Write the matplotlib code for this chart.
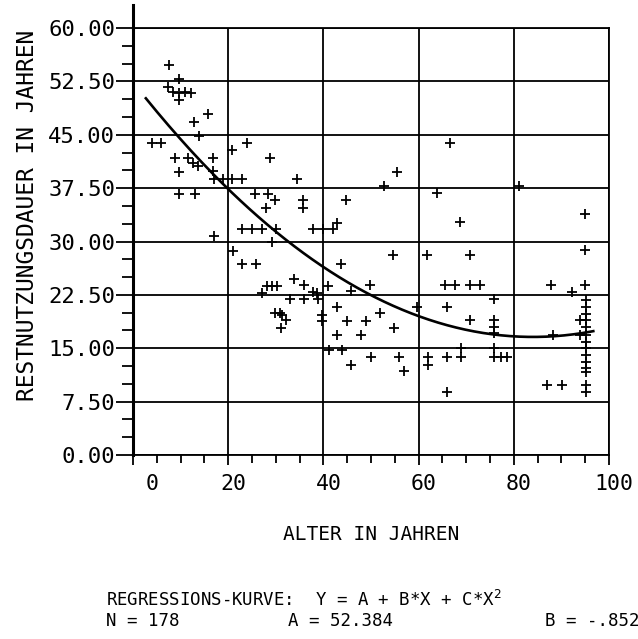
import matplotlib
matplotlib.use("Agg")
import matplotlib.pyplot as plt
import matplotlib.transforms as mtransforms
import numpy as np

# Data
alter = [
    3.9, 5.9, 7.6, 9.7, 7.4, 8.4, 9.7, 10.9, 12.1, 9.7,
    12.9, 15.7, 13.9, 8.8, 11.6, 16.9, 9.7, 12.7, 13.7, 16.9,
    17.1, 18.9, 20.9, 22.8, 9.7, 13.0, 20.9, 23.9, 17.1, 21.1,
    28.8, 25.6, 28.4, 29.8, 27.9, 22.8, 24.9, 27.2, 30.0, 29.1,
    23.0, 25.9, 33.8, 27.0, 28.1, 29.1, 30.2, 33.0, 29.8, 30.9,
    32.1, 31.1, 34.4, 35.8, 35.8, 44.7, 55.5, 52.7, 66.7, 63.8,
    68.7, 42.8, 37.9, 39.9, 42.0, 54.7, 61.7, 70.9, 43.8, 35.9,
    37.9, 38.7, 41.0, 49.8, 45.9, 35.9, 38.9, 42.9, 39.8, 39.8,
    31.2, 44.9, 48.9, 51.8, 54.9, 42.9, 47.9, 41.2, 44.0, 49.9,
    55.9, 45.9, 56.9, 61.9, 61.9, 65.9, 69.0, 69.0, 65.9, 59.6,
    65.9, 70.9, 65.5, 67.6, 70.8, 72.8, 75.8, 75.8, 75.8, 75.8,
    75.8, 75.8, 77.4, 78.5, 87.9, 92.2, 95.0, 95.0, 95.0, 81.0,
    95.2, 95.2, 95.2, 95.2, 95.2, 95.2, 95.2, 95.2, 95.2, 95.2,
    95.2, 95.2, 95.2, 95.2, 93.9, 93.9, 88.3, 87.0, 90.2,
]
restdauer = [
    43.8, 43.8, 54.8, 52.8, 51.7, 51.0, 50.8, 51.0, 50.8, 49.9,
    46.8, 47.9, 44.8, 41.8, 41.8, 41.8, 39.8, 41.0, 40.6, 39.9,
    38.8, 38.8, 38.8, 38.8, 36.7, 36.7, 42.8, 43.8, 30.8, 28.7,
    41.8, 36.7, 36.7, 35.8, 34.7, 31.8, 31.8, 31.8, 31.8, 29.9,
    26.8, 26.8, 24.8, 22.8, 23.7, 23.7, 23.7, 21.9, 19.9, 19.9,
    18.9, 17.8, 38.8, 35.8, 34.7, 35.8, 39.8, 37.8, 43.8, 36.8,
    32.8, 32.6, 31.8, 31.8, 31.8, 28.1, 28.1, 28.1, 26.8, 23.9,
    22.9, 22.7, 23.7, 23.9, 23.0, 21.9, 21.9, 20.8, 19.7, 18.8,
    19.7, 18.8, 18.8, 19.9, 17.9, 16.8, 16.8, 14.8, 14.8, 13.8,
    13.8, 12.7, 11.8, 13.8, 12.7, 13.8, 15.0, 13.8, 8.8, 20.8,
    20.8, 19.0, 23.9, 23.9, 23.9, 23.9, 21.9, 19.0, 18.0, 17.1,
    15.0, 13.8, 13.8, 13.8, 23.9, 22.9, 28.8, 23.9, 33.9, 37.8,
    21.8, 20.8, 19.8, 19.0, 18.0, 16.9, 15.9, 15.0, 14.0, 13.1,
    12.2, 11.7, 9.8, 8.9, 19.0, 16.9, 16.9, 9.8, 9.8,
]

# regression coefficients (C estimated from the drawn curve)
A, B, C = 52.384, -0.8520, 0.00507
x_start, x_end = 2.7, 96.7

xticks = [0, 20, 40, 60, 80, 100]
yticks = [0.0, 7.5, 15.0, 22.5, 30.0, 37.5, 45.0, 52.5, 60.0]

W, H = 638, 639
mono = "DejaVu Sans Mono"

fig = plt.figure(figsize=(W / 100, H / 100), dpi=100)
ax = fig.add_axes([133 / W, 1 - 455 / H, 476 / W, 427 / H])

ax.scatter(alter, restdauer, marker="+", s=42, c="black", linewidths=1.3, zorder=3)

xc = np.linspace(x_start, x_end, 200)
ax.plot(xc, A + B * xc + C * xc**2, color="black", lw=1.9, zorder=4)

ax.set_xlim(0, 100)
ax.set_ylim(0, 60)
ax.set_xticks(xticks)
ax.set_xticklabels([str(t) for t in xticks], fontfamily=mono, fontsize=15.5)
ax.set_yticks(yticks)
ax.set_yticklabels(["%.2f" % t for t in yticks], fontfamily=mono, fontsize=16)
ax.set_xticks(np.arange(0, 101, 5), minor=True)
ax.set_yticks(np.arange(0, 60.1, 2.5), minor=True)
ax.tick_params(which="major", axis="y", direction="out", length=12, width=1.3, pad=1)
ax.tick_params(which="minor", axis="y", direction="out", length=8, width=1.3)
ax.tick_params(which="major", axis="x", direction="out", length=7, width=1.3, pad=7)
ax.tick_params(which="minor", axis="x", direction="out", length=6, width=1.3)
ax.grid(True, which="major", color="black", lw=1.3)
for side in ["top", "right", "bottom"]:
    ax.spines[side].set_linewidth(1.3)
ax.spines["left"].set_linewidth(2.2)

# y-axis line runs up past the top
ax.plot([0, 0], [1, 1.055], transform=ax.transAxes, color="black", lw=2.2, clip_on=False)

# tick labels of the old plotter sit a little right of the grid lines
for lbl in ax.get_xticklabels():
    dx = 19 if lbl.get_text() == "0" else 5
    lbl.set_transform(lbl.get_transform() + mtransforms.ScaledTranslation(dx / 100, 0, fig.dpi_scale_trans))

fig.text(28 / W, 1 - 215 / H, "RESTNUTZUNGSDAUER IN JAHREN", rotation=90,
         ha="center", va="center", fontfamily=mono, fontsize=16.5)
fig.text(371 / W, 1 - 535 / H, "ALTER IN JAHREN", ha="center", va="center",
         fontfamily=mono, fontsize=14)
fig.text(106 / W, 1 - 600 / H, "REGRESSIONS-KURVE:  Y = A + B*X + C*X$^2$",
         ha="left", va="center", fontfamily=mono, fontsize=12.5)
fig.text(106 / W, 1 - 621 / H, "N = 178", ha="left", va="center",
         fontfamily=mono, fontsize=12.5)
fig.text(288 / W, 1 - 621 / H, "A = %.3f" % A, ha="left", va="center",
         fontfamily=mono, fontsize=12.5)
fig.text(545 / W, 1 - 621 / H, "B = -.8520", ha="left", va="center",
         fontfamily=mono, fontsize=12.5)

fig.savefig("out.png", dpi=100)
